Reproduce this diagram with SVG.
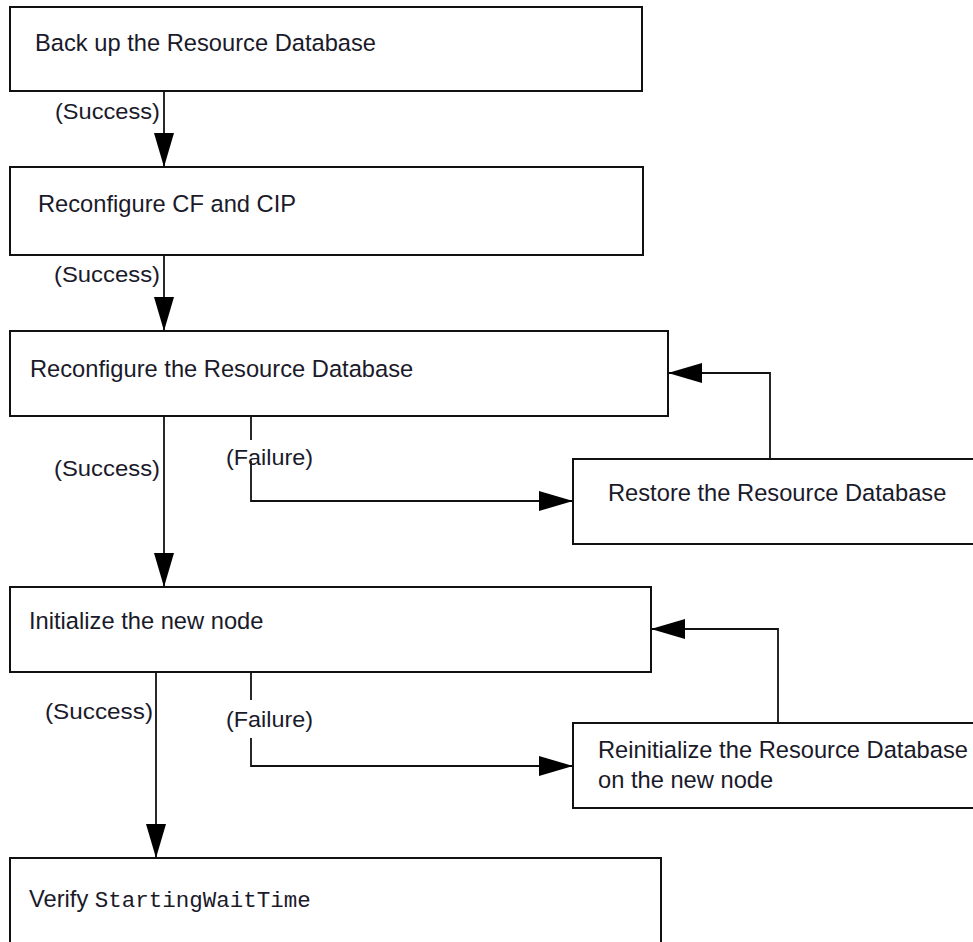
<svg xmlns="http://www.w3.org/2000/svg" width="973" height="942" viewBox="0 0 973 942">
<style>
.box{fill:#fff;stroke:#111;stroke-width:2}
.t{font-family:"Liberation Sans",Arial,sans-serif;font-size:23.7px;fill:#1a1a2a}
.lbl{font-family:"Liberation Sans",Arial,sans-serif;font-size:22.5px;fill:#1a1a2a}
.mono{font-family:"Liberation Mono","DejaVu Sans Mono",monospace}
.c{fill:none;stroke:#111;stroke-width:1.8}
</style>
<defs>
<marker id="ah" markerUnits="userSpaceOnUse" markerWidth="34" markerHeight="20" refX="34" refY="10" orient="auto">
<path d="M0,0 L34,10 L0,20 z" fill="#000"/>
</marker>
</defs>
<rect width="973" height="942" fill="#fff"/>
<g id="n1"><rect class="box" x="10" y="7" width="632" height="84"/><text class="t" x="35" y="51">Back up the Resource Database</text></g>
<g id="n2"><rect class="box" x="10" y="167" width="633" height="88"/><text class="t" x="38" y="212">Reconfigure CF and CIP</text></g>
<g id="n3"><rect class="box" x="10" y="331" width="658" height="85"/><text class="t" x="30" y="377">Reconfigure the Resource Database</text></g>
<g id="n4"><rect class="box" x="573" y="459" width="420" height="85"/><text class="t" x="608" y="501">Restore the Resource Database</text></g>
<g id="n5"><rect class="box" x="10" y="587" width="641" height="85"/><text class="t" x="29" y="629">Initialize the new node</text></g>
<g id="n6"><rect class="box" x="573" y="723" width="420" height="85"/><text class="t" x="598" y="758">Reinitialize the Resource Database</text><text class="t" x="598" y="788">on the new node</text></g>
<g id="n7"><rect class="box" x="10" y="858" width="651" height="100"/><text class="t" x="29" y="907">Verify <tspan class="mono" font-size="22.5">StartingWaitTime</tspan></text></g>
<g id="connectors">
<path class="c" d="M164,91 V167" marker-end="url(#ah)"/>
<path class="c" d="M164,255 V331" marker-end="url(#ah)"/>
<path class="c" d="M164,416 V587" marker-end="url(#ah)"/>
<path class="c" d="M251,416 V440"/>
<path class="c" d="M251,461 V501 H573" marker-end="url(#ah)"/>
<path class="c" d="M770,459 V373 H668" marker-end="url(#ah)"/>
<path class="c" d="M156,672 V858" marker-end="url(#ah)"/>
<path class="c" d="M251,672 V700"/>
<path class="c" d="M251,738 V766 H573" marker-end="url(#ah)"/>
<path class="c" d="M778,723 V629 H651" marker-end="url(#ah)"/>
<text class="lbl" x="55" y="119" textLength="105" lengthAdjust="spacingAndGlyphs">(Success)</text>
<text class="lbl" x="54" y="282" textLength="106" lengthAdjust="spacingAndGlyphs">(Success)</text>
<text class="lbl" x="54" y="476" textLength="106" lengthAdjust="spacingAndGlyphs">(Success)</text>
<text class="lbl" x="226" y="465" textLength="87" lengthAdjust="spacingAndGlyphs">(Failure)</text>
<text class="lbl" x="45" y="719" textLength="108" lengthAdjust="spacingAndGlyphs">(Success)</text>
<text class="lbl" x="226" y="727" textLength="87" lengthAdjust="spacingAndGlyphs">(Failure)</text>
</g>
</svg>
